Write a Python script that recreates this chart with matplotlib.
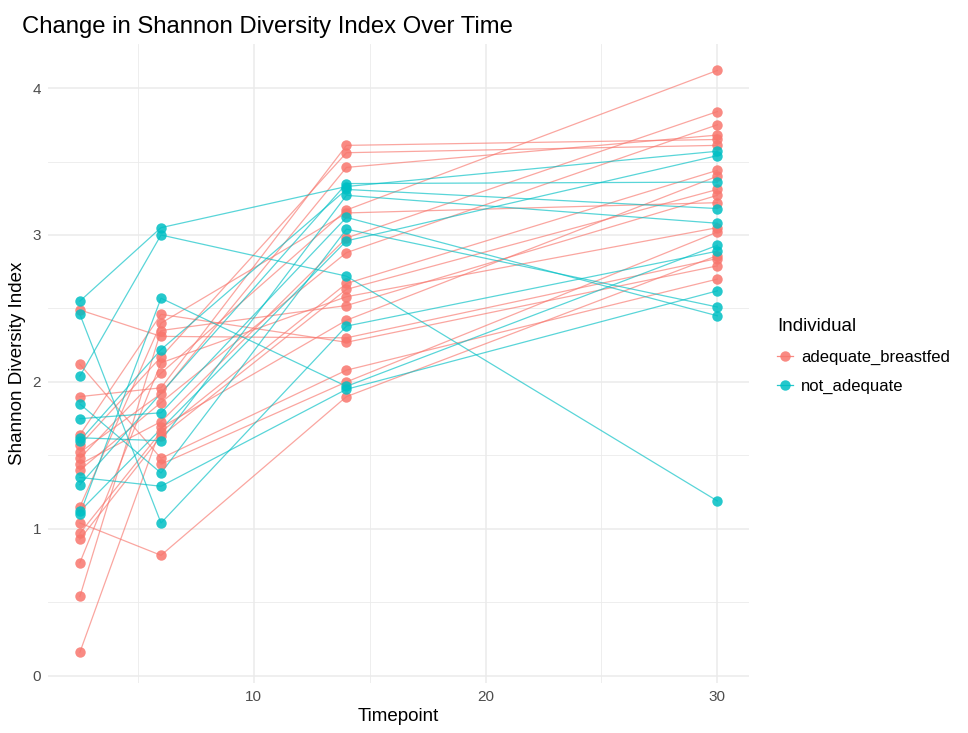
import numpy as np
import matplotlib
matplotlib.use("Agg")
from matplotlib import pyplot as plt
from matplotlib.lines import Line2D

plt.rcParams['font.family'] = ['Liberation Sans', 'DejaVu Sans']

TIMEPOINTS = [2.5, 6, 14, 30]
GROUPS = ['adequate_breastfed', 'not_adequate']
COLORS = {'adequate_breastfed': '#F8766D', 'not_adequate': '#00BFC4'}

# one row per individual, values at the 4 timepoints (nan = missing)
adequate = [
    [2.49, 2.31, 2.30, 2.84],
    [2.12, 1.48, 2.08, 2.70],
    [1.90, 1.96, 3.61, 3.65],
    [1.64, 2.46, 2.27, 2.79],
    [1.57, 2.17, 3.56, 3.61],
    [1.52, 1.92, 3.46, 3.68],
    [1.48, 2.06, 3.17, 4.12],
    [1.44, 1.73, 2.98, 3.84],
    [1.40, 1.86, 2.88, 3.75],
    [1.15, 2.40, 3.15, 3.22],
    [1.04, 0.82, 1.90, 2.86],
    [0.97, 1.66, 2.67, 3.44],
    [0.93, 1.63, 2.63, 3.31],
    [0.77, 2.13, 2.58, 3.05],
    [0.54, 2.35, 2.52, 3.27],
    [0.16, 1.69, 2.42, 3.40],
    [np.nan, 1.44, 2.00, 3.02],
]
not_adequate = [
    [2.55, 3.05, 3.33, 3.57],
    [2.04, 3.00, 2.72, 1.19],
    [2.46, 1.04, 2.38, 2.89],
    [1.10, 2.57, 1.97, 2.93],
    [1.75, 1.79, 3.12, 2.45],
    [1.62, 1.60, 3.27, 3.08],
    [1.85, 1.38, 3.04, 2.51],
    [1.60, 2.22, 3.31, 3.18],
    [1.35, 1.29, 1.95, 2.62],
    [1.12, np.nan, 2.96, 3.54],
    [1.30, np.nan, 3.35, 3.36],
]

fig = plt.figure(figsize=(9.68, 7.33), dpi=100)
ax = fig.add_axes([0.0496, 0.068, 0.7244, 0.872])

x = np.array(TIMEPOINTS)
for name, rows in [('adequate_breastfed', adequate), ('not_adequate', not_adequate)]:
    for row in rows:
        y = np.array(row, dtype=float)
        ok = ~np.isnan(y)
        ax.plot(x[ok], y[ok], color=COLORS[name], lw=0.9, alpha=0.65, zorder=2)
        ax.plot(x[ok], y[ok], 'o', color=COLORS[name], ms=7.5, mew=0, alpha=0.85, zorder=3)

ax.set_xlim(1.125, 31.375)
ax.set_ylim(-0.05, 4.3)
ax.set_xticks([10, 20, 30])
ax.set_xticks([5, 15, 25], minor=True)
ax.set_yticks([0, 1, 2, 3, 4])
ax.set_yticks([0.5, 1.5, 2.5, 3.5], minor=True)
ax.grid(True, which='major', color='#EBEBEB', lw=1.1, zorder=0)
ax.grid(True, which='minor', color='#EBEBEB', lw=0.6, zorder=0)
ax.set_axisbelow(True)
for s in ax.spines.values():
    s.set_visible(False)
ax.tick_params(which='both', length=0, labelsize=11, labelcolor='#4D4D4D', pad=5)

ax.set_xlabel('Timepoint', fontsize=13.5, labelpad=3)
ax.set_ylabel('Shannon Diversity Index', fontsize=13.5, labelpad=5)
fig.text(0.023, 0.978, 'Change in Shannon Diversity Index Over Time', fontsize=17.2, va='top', ha='left')

handles = [Line2D([0], [0], color=COLORS[g], lw=0.9, marker='o', ms=7.5, mew=0, alpha=0.85) for g in GROUPS]
leg = fig.legend(handles, GROUPS, title='Individual', loc='upper left', bbox_to_anchor=(0.787, 0.586),
                 frameon=False, fontsize=12, title_fontsize=13.5, handlelength=1.0, labelspacing=0.85,
                 handletextpad=0.45)
leg._legend_box.align = 'left'

fig.savefig('out.png', dpi=100)
